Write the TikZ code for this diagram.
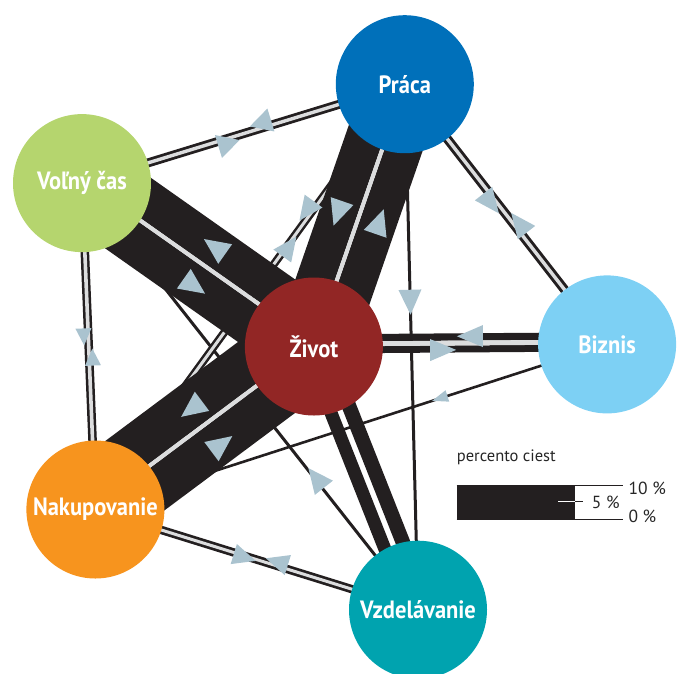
\documentclass[tikz,border=0pt]{standalone}
\usepackage{fontspec}
\usepackage{tikz}
\usetikzlibrary{calc}

\newfontfamily\uzolfont[FakeStretch=0.9]{PT Sans}
\newfontfamily\legfont{PT Sans}

\definecolor{pracacol}{RGB}{0,112,186}
\definecolor{volnycol}{RGB}{181,213,110}
\definecolor{zivcol}{RGB}{146,38,37}
\definecolor{bizcol}{RGB}{125,208,244}
\definecolor{nakcol}{RGB}{247,148,30}
\definecolor{vzdelcol}{RGB}{0,163,175}
\definecolor{tokcol}{RGB}{35,31,32}
\definecolor{oddelcol}{RGB}{220,221,222}
\definecolor{hrotcol}{RGB}{170,195,207}

\pgfdeclarelayer{pasy}
\pgfdeclarelayer{hroty}
\pgfsetlayers{pasy,hroty,main}

\tikzset{
  uzol/.style={circle, minimum size=138pt, inner sep=0pt, text=white,
    font=\uzolfont\bfseries\fontsize{25}{25}\selectfont},
  tok/.style={draw=tokcol},
  oddel/.style={draw=oddelcol},
  legtext/.style={inner sep=0pt, anchor=west, text=black!85,
    font=\legfont\fontsize{16.5}{16.5}\selectfont},
  legnum/.style={legtext, font=\legfont\fontsize{17.5}{17.5}\selectfont},
  pics/hrot/.style args={#1/#2}{code={
    \fill[hrotcol] (2*#2/3,0) -- (-#2/3,#1/2) -- (-#2/3,-#1/2) -- cycle;}},
}

% pás toku: [štýl]{od}{do}{posun vpravo}{hrúbka}
\newcommand{\pas}[5][tok]{\draw[#1, line width=#5pt]
  ($(#2.center)!#4pt!-90:(#3.center)$) -- ($(#3.center)!#4pt!90:(#2.center)$);}
% šípka: [základňa/dĺžka]{od}{do}{posun vpravo}{poloha}
\newcommand{\sipka}[5][24/26]{\path
  ($(#2.center)!#4pt!-90:(#3.center)$) -- ($(#3.center)!#4pt!90:(#2.center)$)
  pic[pos=#5, sloped, allow upside down] {hrot=#1};}

\begin{document}
\begin{tikzpicture}[x=1pt, y=-1pt]
  \useasboundingbox (0,0) rectangle (677,673);

  % Uzly
  \node[uzol, fill=pracacol] (prac) at (404.8,84.2) {Práca};
  \node[uzol, fill=volnycol] (volny) at (82,183.1) {Voľný čas};
  \node[uzol, fill=zivcol] (ziv) at (313.9,346.5) {Život};
  \node[uzol, fill=bizcol] (biz) at (607.1,344.4) {Biznis};
  \node[uzol, fill=nakcol] (nak) at (95.4,509.5) {Nakupovanie};
  \node[uzol, fill=vzdelcol] (vzdel) at (418,609.7) {Vzdelávanie};

  % Toky
  \begin{pgfonlayer}{pasy}
    % jednosmerné
    \pas{prac}{vzdel}{0}{3}
    \pas{biz}{nak}{0}{2.6}
    \pas{vzdel}{volny}{0}{3}
    % tenké obojsmerné
    \pas{volny}{prac}{0}{9} \pas[oddel]{volny}{prac}{0}{3.4}
    \pas{prac}{biz}{0}{9.4} \pas[oddel]{prac}{biz}{0}{3.4}
    \pas{volny}{nak}{0}{8.6} \pas[oddel]{volny}{nak}{0}{3.6}
    \pas{nak}{prac}{0}{8} \pas[oddel]{nak}{prac}{0}{3}
    \pas{nak}{vzdel}{0}{8.4} \pas[oddel]{nak}{vzdel}{0}{3}
    % hrubé
    \pas{prac}{ziv}{20.75}{37.5} \pas{ziv}{prac}{20.35}{36.7}
    \pas[oddel]{prac}{ziv}{0}{4}
    \pas{volny}{ziv}{19.5}{41} \pas{ziv}{volny}{24.5}{39}
    \pas[oddel]{ziv}{volny}{3}{4}
    \pas{nak}{ziv}{20.65}{42.7} \pas{ziv}{nak}{26.85}{44.3}
    \pas[oddel]{ziv}{nak}{2.7}{4}
    \pas{ziv}{biz}{3.5}{7} \pas{biz}{ziv}{8.5}{7.3}
    \pas[oddel]{biz}{ziv}{2.4}{4.8}
    \pas{ziv}{vzdel}{8.5}{13} \pas{vzdel}{ziv}{10.75}{14.5}
  \end{pgfonlayer}

  % Šípky
  \begin{pgfonlayer}{hroty}
    \sipka[24/22]{prac}{volny}{5}{0.432}
    \sipka[24/22]{volny}{prac}{5}{0.44}
    \sipka[22/25]{prac}{biz}{5}{0.434}
    \sipka[22/25]{biz}{prac}{5}{0.443}
    \sipka[23/25]{prac}{vzdel}{0}{0.407}
    \sipka[22/24]{prac}{nak}{5}{0.297}
    \sipka[22/24]{nak}{prac}{2}{0.614}
    \sipka[16/17]{volny}{nak}{4.5}{0.462}
    \sipka[16/17]{nak}{volny}{3.5}{0.458}
    \sipka[21/23]{nak}{vzdel}{1.5}{0.453}
    \sipka[21/23]{vzdel}{nak}{4}{0.43}
    \sipka[12/16]{biz}{nak}{0}{0.322}
    \sipka[23/25]{vzdel}{volny}{1.5}{0.299}
    \sipka{prac}{ziv}{21}{0.503}
    \sipka{ziv}{prac}{21}{0.487}
    \sipka{ziv}{volny}{24.5}{0.474}
    \sipka{volny}{ziv}{19.5}{0.518}
    \sipka{ziv}{nak}{23}{0.481}
    \sipka{nak}{ziv}{23}{0.5}
    \sipka[22/26]{biz}{ziv}{9.2}{0.453}
    \sipka[22/26]{ziv}{biz}{4.4}{0.426}
  \end{pgfonlayer}

  % Legenda
  \fill[tokcol] (456.7,485) rectangle (575,519);
  \draw[tokcol, line width=0.8pt] (456.7,485) -- (623.3,485) (456.7,519) -- (623.3,519);
  \draw[white, line width=1pt] (558.3,501.7) -- (575,501.7);
  \draw[tokcol, line width=1pt] (575,501.7) -- (583.3,501.7);
  \node[legtext] (legtitle) at (456.7,457) {percento ciest};
  \node[legnum] (leg10) at (628.3,488) {10 \%};
  \node[legnum] (leg5) at (591.7,502.5) {5 \%};
  \node[legnum] (leg0) at (628.3,516) {0 \%};
\end{tikzpicture}
\end{document}
